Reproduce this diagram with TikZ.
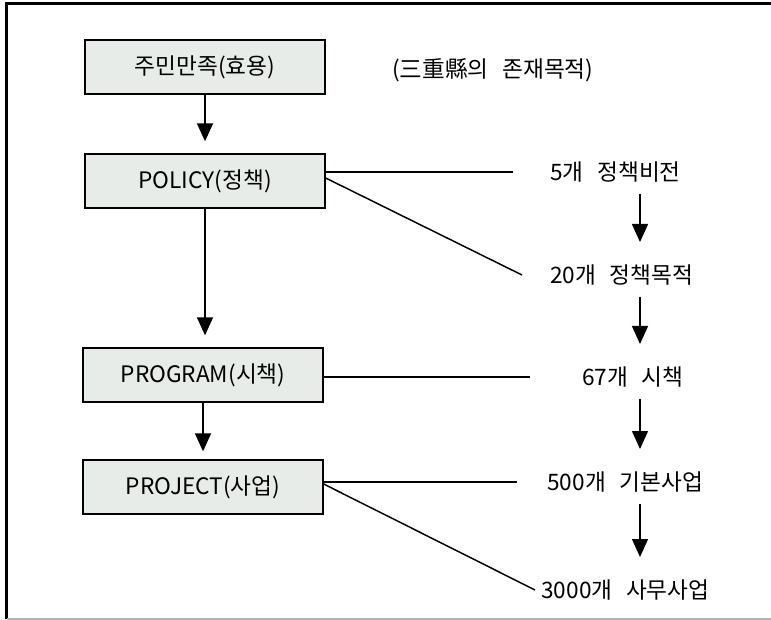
\documentclass[tikz,border=0pt]{standalone}
\usepackage{fontspec}
\usepackage{tikz}
\usetikzlibrary{arrows.meta}
\newfontfamily\kfont{Noto Sans CJK KR}
\definecolor{boxfill}{RGB}{232,236,232}
\newcommand{\gap}{\hspace{0.6em}}
\tikzstyle{every node}=[font=\kfont\fontsize{17}{20}\selectfont]
\tikzstyle{tierbox}=[draw=black,line width=1pt,fill=boxfill,minimum width=180pt,minimum height=40.5pt]
\tikzstyle{countlabel}=[inner sep=0pt,anchor=west]
\tikzstyle{down}=[line width=1.1pt,-{Triangle[width=12pt,length=13.5pt]}]
\tikzstyle{link}=[line width=1.1pt]
\begin{document}
\begin{tikzpicture}[x=0.75pt,y=-0.75pt]
  \useasboundingbox (0,0) rectangle (771,620);
  % frame
  \draw[line width=1.8pt] (6.5,619) -- (6.5,3.5) -- (771,3.5);
  \draw[gray!60,line width=1pt] (6.5,619) -- (771,619);

  % left column
  \node[tierbox] (satisfaction) at (205,67) {주민만족(효용)};
  \node[tierbox] (policy) at (205,181) {POLICY(정책)};
  \node[tierbox] (program) at (203,375) {PROGRAM(시책)};
  \node[tierbox] (project) at (203,487) {PROJECT(사업)};
  \node[countlabel] (purpose) at (392,70) {(三重縣의\gap 존재목적)};

  % right column
  \node[countlabel] (vision) at (550,172) {5개\gap 정책비전};
  \node[countlabel] (goal) at (550,275) {20개\gap 정책목적};
  \node[countlabel] (measure) at (582,377) {67개\gap 시책};
  \node[countlabel] (basic) at (547,482) {500개\gap 기본사업};
  \node[countlabel] (office) at (541,590) {3000개\gap 사무사업};
  \coordinate (col) at (640,0);

  \draw[down,shorten >=9pt] (satisfaction) -- (policy);
  \draw[down,shorten >=9pt] (policy.south) -- (policy.south |- program.north);
  \draw[down,shorten >=6pt] (program) -- (project);

  \foreach \from/\to in {vision/goal,goal/measure,measure/basic,basic/office}
    \draw[down,shorten <=16.5pt,shorten >=24.75pt] (\from -| col) -- (\to -| col);

  % links to the counts
  \draw[link] ([yshift=6.75pt]policy.east) -- ([xshift=-27.75pt]vision.west);
  \draw[link] ([yshift=2.25pt]policy.east) -- ([xshift=-21pt]goal.west);
  \draw[link] ([yshift=-1.5pt]program.east) -- ([xshift=-39pt]measure.west);
  \draw[link] ([yshift=3.75pt]project.east) -- ([xshift=-22.5pt]basic.west);
  \draw[link] ([yshift=2.25pt]project.east) -- ([xshift=-4.5pt]office.west);
\end{tikzpicture}
\end{document}
